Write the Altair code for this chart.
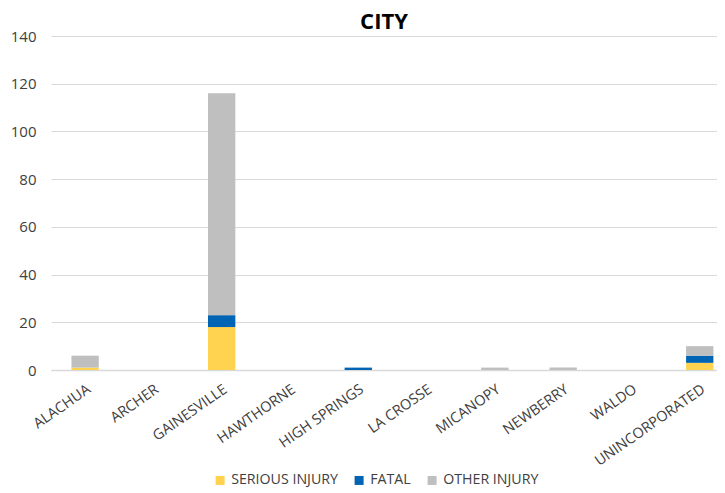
import altair as alt
import pandas as pd

cities = ["ALACHUA", "ARCHER", "GAINESVILLE", "HAWTHORNE", "HIGH SPRINGS",
          "LA CROSSE", "MICANOPY", "NEWBERRY", "WALDO", "UNINCORPORATED"]
serious = [1, 0, 18, 0, 0, 0, 0, 0, 0, 3]
fatal = [0, 0, 5, 0, 1, 0, 0, 0, 0, 3]
other = [5, 0, 93, 0, 0, 0, 1, 1, 0, 4]
series = ["SERIOUS INJURY", "FATAL", "OTHER INJURY"]
colors = ["#FFD34F", "#0064B4", "#BFBFBF"]

rows = []
for i, c in enumerate(cities):
    for k, (s, vals) in enumerate(zip(series, [serious, fatal, other])):
        rows.append({"city": c, "series": s, "value": vals[i], "ord": k})
df = pd.DataFrame(rows)

font = "Open Sans"

chart = alt.Chart(df).mark_bar().encode(
    x=alt.X("city:N", sort=cities, title=None,
            scale=alt.Scale(paddingInner=0.6, paddingOuter=0.176, align=0.85),
            axis=alt.Axis(labelAngle=-35, labelAlign="right", labelBaseline="top",
                          labelFontSize=14.5, labelColor="#404040", labelFont=font,
                          ticks=False, domainColor="#D9D9D9", domainWidth=1.5,
                          labelPadding=12)),
    y=alt.Y("value:Q", title=None, stack="zero",
            scale=alt.Scale(domain=[0, 140]),
            axis=alt.Axis(values=list(range(0, 141, 20)), labelFontSize=15,
                          labelColor="#404040", labelFont=font, ticks=False,
                          domain=False, gridColor="#D9D9D9", gridWidth=1.2,
                          labelPadding=15)),
    color=alt.Color("series:N", sort=series,
                    scale=alt.Scale(domain=series, range=colors),
                    legend=alt.Legend(title=None, orient="none", direction="horizontal",
                                      legendX=162, legendY=437, symbolType="square",
                                      symbolSize=81, symbolStrokeWidth=0,
                                      labelFontSize=14.2, labelColor="#404040",
                                      labelOffset=4, labelFont=font, columnPadding=14)),
    order=alt.Order("ord:Q"),
).properties(
    width=666, height=334,
    title=alt.TitleParams("CITY", fontSize=22, font=font, fontWeight="bold",
                          color="#000000", anchor="middle", offset=-5),
    autosize=alt.AutoSizeParams(type="none"),
    padding={"left": 43, "top": 28, "right": 0, "bottom": 118},
).configure_view(stroke=None)

chart.save("out.html", embed_options={"renderer": "svg", "actions": False})
